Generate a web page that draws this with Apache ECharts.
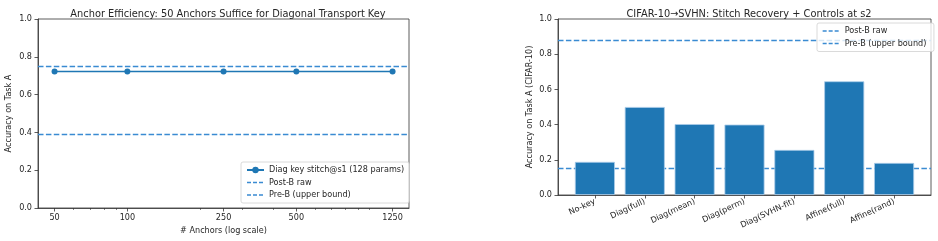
<!DOCTYPE html>
<html>
<head>
<meta charset="utf-8">
<script src="https://cdn.jsdelivr.net/npm/echarts@6/dist/echarts.min.js"></script>
<style>
  html, body { margin: 0; padding: 0; background: #fff; }
  #main { width: 938px; height: 241px; }
</style>
</head>
<body>
<div id="main"></div>
<script>
// left panel: anchor efficiency
var anchors = [50, 100, 250, 500, 1250];
var anchorAcc = [0.722, 0.722, 0.722, 0.722, 0.722];
var anchorMinor = [60, 70, 80, 90, 200, 300, 400, 600, 700, 800, 900, 1000];
var leftPostB = 0.394;
var leftPreB = 0.752;

// right panel: stitch recovery + controls
var methods = ['No-key', 'Diag(full)', 'Diag(mean)', 'Diag(perm)', 'Diag(SVHN-fit)', 'Affine(full)', 'Affine(rand)'];
var methodAcc = [0.188, 0.500, 0.403, 0.400, 0.256, 0.646, 0.182];
var rightPostB = 0.153;
var rightPreB = 0.879;

var FONT = 'DejaVu Sans';
var C0 = '#1f77b4';
var DASH = '#3a8bd2';
var DASHTYPE = [5.5, 2.4];
var txt = { fontFamily: FONT, fontSize: 8.1, color: '#262626' };
var spine = { color: '#333', width: 0.8 };

var chart = echarts.init(document.getElementById('main'), null, { renderer: 'canvas' });

function yAxisFor(grid, name, gap) {
  return {
    type: 'value', gridIndex: grid, min: 0, max: 1, interval: 0.2,
    name: name, nameLocation: 'middle', nameGap: gap,
    nameTextStyle: txt,
    axisLine: { show: true, onZero: false, lineStyle: spine },
    axisTick: { show: true, inside: false, length: 3.5, lineStyle: spine },
    axisLabel: Object.assign({ formatter: function (v) { return v.toFixed(1); }, margin: 6 }, txt),
    splitLine: { show: false }
  };
}

function dashedLegend(name) {
  return { name: name, itemStyle: { opacity: 0 }, lineStyle: { color: DASH, type: [4, 2], width: 1.3 } };
}

function refLine(name, xi, yi, value, z) {
  return {
    name: name, type: 'line', xAxisIndex: xi, yAxisIndex: yi, data: [], symbol: 'none', z: z,
    lineStyle: { color: DASH, type: DASHTYPE, width: 1.4 }, itemStyle: { color: DASH },
    markLine: { silent: true, symbol: 'none', label: { show: false }, z: z,
      lineStyle: { color: DASH, type: DASHTYPE, width: 1.4 }, data: [{ yAxis: value }] }
  };
}

var barIdx = methods.map(function (m, i) { return i; });

var legendBase = {
  orient: 'vertical', itemGap: 4.5, itemWidth: 17, itemHeight: 8,
  padding: [4, 5, 4, 5], borderColor: '#d0d0d0', borderWidth: 0.8, borderRadius: 2,
  backgroundColor: 'rgba(255,255,255,0.8)', textStyle: txt
};

var option = {
  animation: false,
  backgroundColor: '#fff',
  title: [
    { text: 'Anchor Efficiency: 50 Anchors Suffice for Diagonal Transport Key', left: 223, top: 4, textAlign: 'center',
      textStyle: { fontFamily: FONT, fontSize: 9.8, fontWeight: 'normal', color: '#262626' } },
    { text: 'CIFAR-10\u2192SVHN: Stitch Recovery + Controls at s2', left: 744, top: 4, textAlign: 'center',
      textStyle: { fontFamily: FONT, fontSize: 9.8, fontWeight: 'normal', color: '#262626' } }
  ],
  grid: [
    { left: 38, top: 19, width: 371, height: 189, show: true, borderColor: '#333', borderWidth: 0.8, backgroundColor: 'transparent' },
    { left: 558, top: 19, width: 373, height: 176, show: true, borderColor: '#333', borderWidth: 0.8, backgroundColor: 'transparent' }
  ],
  legend: [
    Object.assign({}, legendBase, { left: 241, top: 162,
      data: ['Diag key stitch@s1 (128 params)', dashedLegend('Post-B raw'), dashedLegend('Pre-B (upper bound)')] }),
    Object.assign({}, legendBase, { left: 817, top: 23,
      data: [dashedLegend('Post-B raw '), dashedLegend('Pre-B (upper bound) ')] })
  ],
  xAxis: [
    { type: 'log', gridIndex: 0, min: 42.7, max: 1462, logBase: 10,
      name: '# Anchors (log scale)', nameLocation: 'middle', nameGap: 16, nameTextStyle: txt,
      axisLine: { show: true, onZero: false, lineStyle: spine },
      axisTick: { show: true, length: 3.5, customValues: anchors, lineStyle: spine },
      axisLabel: Object.assign({ customValues: anchors, margin: 6, formatter: function (v) { return String(Math.round(v)); } }, txt),
      splitLine: { show: false }, minorTick: { show: false } },
    { type: 'log', gridIndex: 0, min: 42.7, max: 1462, logBase: 10, position: 'bottom',
      axisLine: { show: false, onZero: false },
      axisTick: { show: true, length: 2, customValues: anchorMinor, lineStyle: { color: '#333', width: 0.6 } },
      axisLabel: { show: false }, splitLine: { show: false } },
    { type: 'value', gridIndex: 1, min: -0.74, max: 6.74,
      axisLine: { show: true, onZero: false, lineStyle: spine },
      axisTick: { show: true, length: 3.5, customValues: barIdx, lineStyle: spine },
      axisLabel: Object.assign({ customValues: barIdx, rotate: 25, margin: 6,
        formatter: function (v) { return methods[Math.round(v)] || ''; } }, txt),
      splitLine: { show: false } }
  ],
  yAxis: [
    yAxisFor(0, 'Accuracy on Task A', 25),
    yAxisFor(1, 'Accuracy on Task A (CIFAR-10)', 24)
  ],
  series: [
    { name: 'Diag key stitch@s1 (128 params)', type: 'line', xAxisIndex: 0, yAxisIndex: 0,
      data: anchors.map(function (a, i) { return [a, anchorAcc[i]]; }),
      symbol: 'circle', symbolSize: 6, z: 4,
      lineStyle: { color: C0, width: 1.5 }, itemStyle: { color: C0 } },
    refLine('Post-B raw', 0, 0, leftPostB, 3),
    refLine('Pre-B (upper bound)', 0, 0, leftPreB, 3),
    { name: 'bars', type: 'bar', xAxisIndex: 2, yAxisIndex: 1, barWidth: 40, z: 3,
      data: methodAcc.map(function (v, i) { return [i, v]; }),
      itemStyle: { color: C0, borderColor: '#a9cbe8', borderWidth: 0.8 } },
    refLine('Post-B raw ', 2, 1, rightPostB, 1),
    refLine('Pre-B (upper bound) ', 2, 1, rightPreB, 1)
  ]
};

chart.setOption(option);
</script>
</body>
</html>
